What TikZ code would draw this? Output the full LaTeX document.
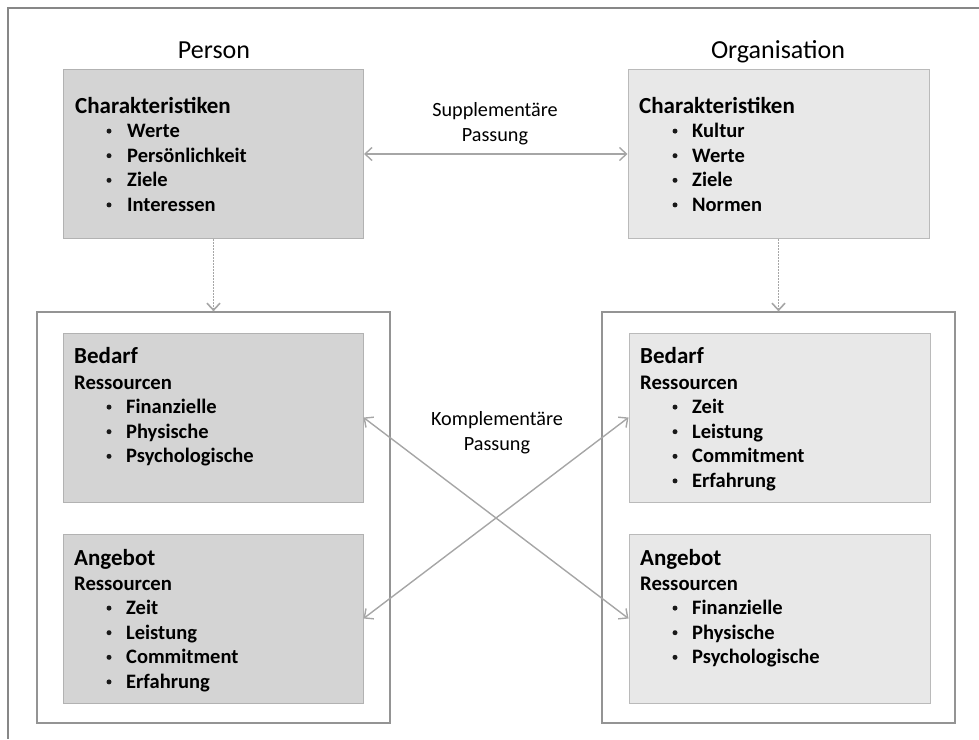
\documentclass[tikz,border=0pt]{standalone}
\usepackage{fontspec}
\setmainfont{Carlito}
\usetikzlibrary{arrows.meta}
\begin{document}
\begin{tikzpicture}[x=1pt,y=-1pt,
  frameline/.style={draw=black!47,line width=1.4pt},
  groupbox/.style={rectangle,draw=black!42,line width=1.3pt,inner sep=0pt,
    minimum width=353pt,minimum height=411pt},
  personbox/.style={rectangle,draw=black!30,fill=black!17,line width=1pt,
    inner sep=0pt,minimum width=300pt,minimum height=169pt},
  orgbox/.style={rectangle,draw=black!27,fill=black!9,line width=1pt,
    inner sep=0pt,minimum width=301pt,minimum height=169pt},
  title/.style={font=\fontsize{26}{30}\selectfont,anchor=base},
  head/.style={font=\bfseries\fontsize{23}{27}\selectfont,anchor=base west,inner sep=0pt},
  sub/.style={font=\bfseries\fontsize{20.7}{24}\selectfont,anchor=base west,inner sep=0pt},
  item/.style={font=\bfseries\fontsize{20.5}{24}\selectfont,anchor=base west,inner sep=0pt},
  dot/.style={circle,fill=black!90,inner sep=0pt,minimum size=5pt},
  fitlabel/.style={font=\fontsize{20.2}{25}\selectfont,align=center,inner sep=0pt},
  fitarrow/.style={draw=black!35,line width=1.4pt,
    {Straight Barb[length=7pt,width=13pt]}-{Straight Barb[length=7pt,width=13pt]}},
  linkarrow/.style={draw=black!35,line width=1.6pt,dash pattern=on 1.6pt off 1.4pt,
    -{Straight Barb[length=7pt,width=13pt]}}
]
\useasboundingbox (0,0) rectangle (979,739);

% page frame (only the top and left edges fall inside the picture)
\draw[frameline] (979,8) -- (8,8) -- (8,739);

% column titles
\node[title] (tperson) at (214,58) {Person};
\node[title] (torg) at (778,58) {Organisation};

% grouping boxes for needs and supplies
\node[groupbox] (pgroup) at (213.5,517.5) {};
\node[groupbox] (ogroup) at (778.5,517.5) {};

% characteristics
\node[personbox] (pchar) at (213.5,154) {};
\node[orgbox] (ochar) at (778.5,154) {};

% needs and supplies of the person
\node[personbox] (pbed) at (213,417.5) {};
\node[personbox] (pang) at (213,618.5) {};
% needs and supplies of the organisation
\node[orgbox] (obed) at (779.5,417.5) {};
\node[orgbox] (oang) at (779.5,618.5) {};

% --- person: characteristics
\node[head] (pcharh) at (75,113) {Charakteristiken};
\foreach \t [count=\i] in {Werte,Persönlichkeit,Ziele,Interessen}{
  \node[dot] (pchard\i) at (109,113+24.6*\i-6.5) {};
  \node[item] (pchari\i) at (127,113+24.6*\i) {\t};
}
% --- organisation: characteristics
\node[head] (ocharh) at (639,113) {Charakteristiken};
\foreach \t [count=\i] in {Kultur,Werte,Ziele,Normen}{
  \node[dot] (ochard\i) at (675,113+24.6*\i-6.5) {};
  \node[item] (ochari\i) at (692,113+24.6*\i) {\t};
}

% --- person: needs
\node[head] (pbedh) at (74,363) {Bedarf};
\node[sub] (pbeds) at (74,389) {Ressourcen};
\foreach \t [count=\i] in {Finanzielle,Physische,Psychologische}{
  \node[dot] (pbedd\i) at (109,389+24.6*\i-6.5) {};
  \node[item] (pbedi\i) at (126,389+24.6*\i) {\t};
}
% --- person: supplies
\node[head] (pangh) at (74,565) {Angebot};
\node[sub] (pangs) at (74,590) {Ressourcen};
\foreach \t [count=\i] in {Zeit,Leistung,Commitment,Erfahrung}{
  \node[dot] (pangd\i) at (109,590+24.6*\i-6.5) {};
  \node[item] (pangi\i) at (126,590+24.6*\i) {\t};
}

% --- organisation: needs
\node[head] (obedh) at (640,363) {Bedarf};
\node[sub] (obeds) at (640,389) {Ressourcen};
\foreach \t [count=\i] in {Zeit,Leistung,Commitment,Erfahrung}{
  \node[dot] (obedd\i) at (675,389+24.6*\i-6.5) {};
  \node[item] (obedi\i) at (692,389+24.6*\i) {\t};
}
% --- organisation: supplies
\node[head] (oangh) at (640,565) {Angebot};
\node[sub] (oangs) at (640,590) {Ressourcen};
\foreach \t [count=\i] in {Finanzielle,Physische,Psychologische}{
  \node[dot] (oangd\i) at (675,590+24.6*\i-6.5) {};
  \node[item] (oangi\i) at (692,590+24.6*\i) {\t};
}

% fit labels
\node[fitlabel] (supp) at (495,124) {Supplementäre\\Passung};
\node[fitlabel] (komp) at (497,433) {Komplementäre\\Passung};

% connectors
\draw[fitarrow] (pchar.east) -- (ochar.west);
\draw[linkarrow] (pchar.south) -- (pgroup.north);
\draw[linkarrow] (ochar.south) -- (ogroup.north);
\draw[fitarrow] (pbed.east) -- (oang.west);
\draw[fitarrow] (pang.east) -- (obed.west);
\end{tikzpicture}
\end{document}
